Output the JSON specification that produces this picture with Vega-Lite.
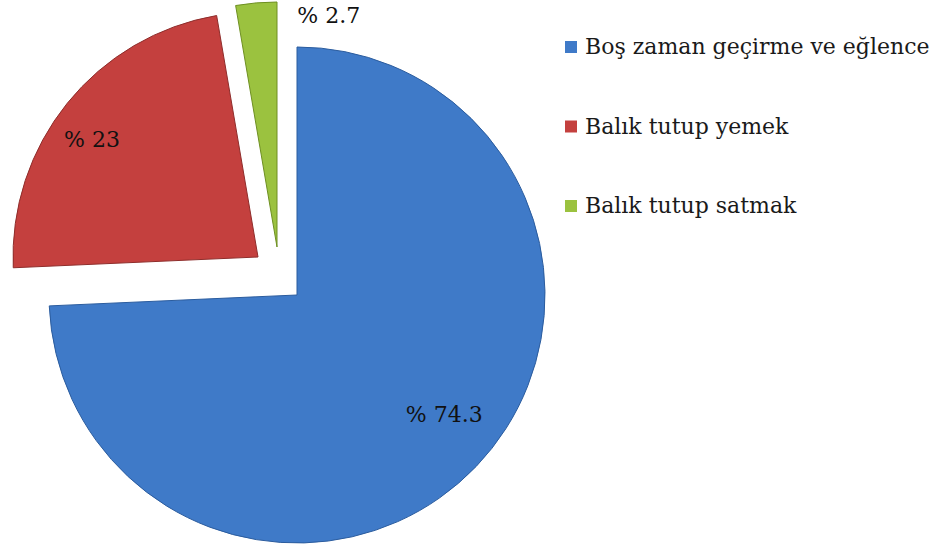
{
  "$schema": "https://vega.github.io/schema/vega-lite/v6.json",
  "width": 594,
  "height": 508,
  "autosize": "none",
  "padding": {"left": 0, "top": 41, "right": 350, "bottom": 0},
  "background": "white",
  "config": {"view": {"stroke": null}, "font": "DejaVu Serif"},
  "data": {
    "values": [
      {"cat": "Boş zaman geçirme ve eğlence", "value": 74.3, "order": 1, "label": "% 74.3"},
      {"cat": "Balık tutup yemek", "value": 23, "order": 2, "label": "% 23"},
      {"cat": "Balık tutup satmak", "value": 2.7, "order": 3, "label": "% 2.7"}
    ]
  },
  "transform": [
    {"stack": "value", "groupby": [], "sort": [{"field": "order", "order": "ascending"}], "as": ["v0", "v1"]}
  ],
  "layer": [
    {
      "transform": [{"filter": "datum.order === 1"}],
      "mark": {"type": "arc", "outerRadius": 248, "stroke": "#2B5C9E", "strokeWidth": 1},
      "encoding": {
        "theta": {"field": "v0", "type": "quantitative", "scale": {"domain": [0, 100], "range": [0, 6.283185307]}},
        "theta2": {"field": "v1"},
        "color": {
          "field": "cat", "type": "nominal",
          "scale": {"domain": ["Boş zaman geçirme ve eğlence", "Balık tutup yemek", "Balık tutup satmak"], "range": ["#3F7AC8", "#C4403E", "#9BC23F"]},
          "legend": {
            "title": null, "orient": "none", "legendX": 560, "legendY": -5,
            "symbolType": "square", "symbolSize": 144, "symbolStrokeWidth": 0,
            "labelFont": "DejaVu Serif", "labelFontSize": 22, "labelColor": "#1a1a1a",
            "labelOffset": 3, "rowPadding": 57.5, "labelLimit": 500
          }
        }
      }
    },
    {
      "transform": [{"filter": "datum.order === 2"}],
      "mark": {"type": "arc", "outerRadius": 245, "stroke": "#8E2D2B", "strokeWidth": 1, "xOffset": -39, "yOffset": -38},
      "encoding": {
        "theta": {"field": "v0", "type": "quantitative"},
        "theta2": {"field": "v1"},
        "color": {"field": "cat", "type": "nominal"}
      }
    },
    {
      "transform": [{"filter": "datum.order === 3"}],
      "mark": {"type": "arc", "outerRadius": 245, "stroke": "#6E8F22", "strokeWidth": 1, "xOffset": -20, "yOffset": -48},
      "encoding": {
        "theta": {"field": "v0", "type": "quantitative"},
        "theta2": {"field": "v1"},
        "color": {"field": "cat", "type": "nominal"}
      }
    },
    {
      "mark": {"type": "text", "radius": 190, "fontSize": 22, "font": "DejaVu Serif", "color": "#111111", "dx": 10, "dy": -11},
      "encoding": {
        "theta": {"field": "value", "type": "quantitative", "stack": true},
        "order": {"field": "order"},
        "text": {"condition": {"test": "datum.order === 1", "field": "label"}, "value": ""}
      }
    },
    {
      "mark": {"type": "text", "radius": 257, "fontSize": 22, "font": "DejaVu Serif", "color": "#111111", "dx": -5, "dy": 6},
      "encoding": {
        "theta": {"field": "value", "type": "quantitative", "stack": true},
        "order": {"field": "order"},
        "text": {"condition": {"test": "datum.order === 2", "field": "label"}, "value": ""}
      }
    },
    {
      "mark": {"type": "text", "radius": 280, "fontSize": 22, "font": "DejaVu Serif", "color": "#111111", "align": "left", "dx": 24},
      "encoding": {
        "theta": {"field": "value", "type": "quantitative", "stack": true},
        "order": {"field": "order"},
        "text": {"condition": {"test": "datum.order === 3", "field": "label"}, "value": ""}
      }
    }
  ]
}
